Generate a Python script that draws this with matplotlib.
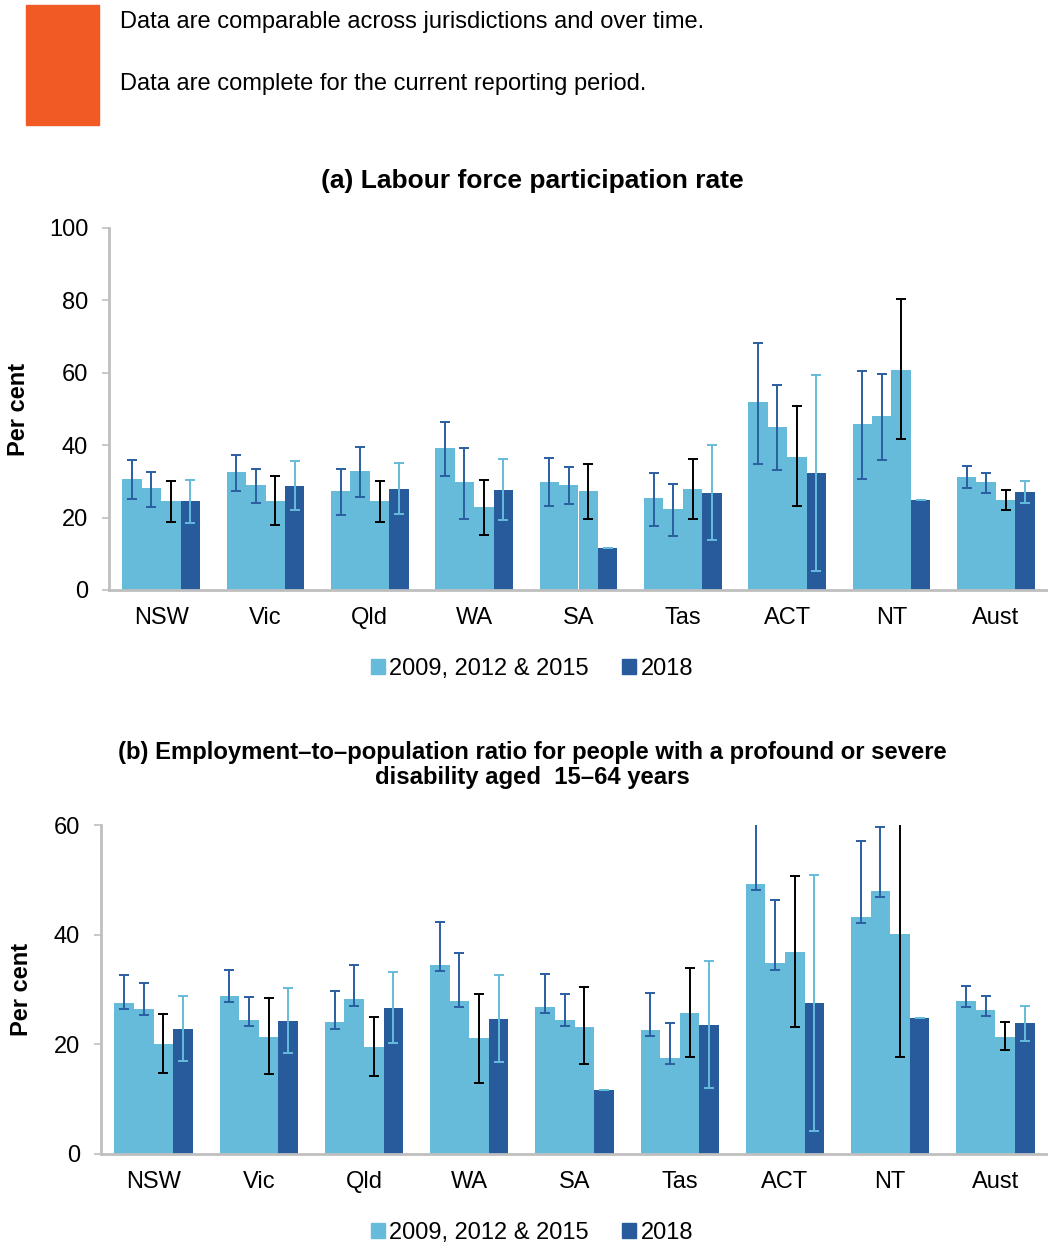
import matplotlib.pyplot as plt
import matplotlib.patches as mpatches
import numpy as np

plt.rcParams['font.family'] = ['Liberation Sans', 'DejaVu Sans']

states = ['NSW', 'Vic', 'Qld', 'WA', 'SA', 'Tas', 'ACT', 'NT', 'Aust']
years = ['2009', '2012', '2015', '2018']

# (a) labour force participation rate: value, lower CI, upper CI per year
lf_val = {
    '2009': [30.7, 32.5, 27.4, 39.2, 29.9, 25.4, 51.8, 45.8, 31.3],
    '2012': [28.1, 29.1, 32.8, 29.7, 29.1, 22.4, 45.1, 48.1, 29.9],
    '2015': [24.6, 24.7, 24.5, 22.8, 27.3, 27.9, 36.8, 60.9, 24.8],
    '2018': [24.6, 28.8, 28.0, 27.6, 11.5, 26.9, 32.2, 24.8, 27.0],
}
lf_lo = {
    '2009': [25.1, 27.3, 20.6, 31.6, 23.1, 17.8, 34.9, 30.8, 28.1],
    '2012': [23.0, 24.1, 25.7, 19.7, 23.7, 14.9, 33.1, 35.9, 26.9],
    '2015': [18.7, 17.9, 18.9, 15.1, 19.6, 19.7, 23.1, 41.7, 22.2],
    '2018': [18.4, 22.2, 21.0, 19.4, 11.5, 13.9, 5.3, 24.8, 23.9],
}
lf_hi = {
    '2009': [35.9, 37.4, 33.5, 46.4, 36.5, 32.4, 68.3, 60.4, 34.2],
    '2012': [32.6, 33.5, 39.6, 39.2, 34.0, 29.4, 56.6, 59.8, 32.2],
    '2015': [30.1, 31.6, 30.1, 30.5, 34.8, 36.1, 50.8, 80.3, 27.5],
    '2018': [30.4, 35.7, 35.1, 36.1, 11.5, 40.0, 59.3, 24.8, 30.1],
}

# (b) employment-to-population ratio
ep_val = {
    '2009': [27.6, 28.9, 24.0, 34.5, 26.8, 22.6, 49.3, 43.3, 27.9],
    '2012': [26.5, 24.5, 28.2, 27.9, 24.5, 17.5, 34.8, 47.9, 26.3],
    '2015': [20.1, 21.4, 19.5, 21.1, 23.2, 25.7, 36.9, 40.1, 21.4],
    '2018': [22.8, 24.3, 26.6, 24.6, 11.6, 23.5, 27.5, 24.8, 23.8],
}
ep_lo = {
    '2009': [26.5, 27.7, 22.8, 33.3, 25.7, 21.5, 48.2, 42.2, 26.8],
    '2012': [25.3, 23.3, 27.0, 26.8, 23.3, 16.4, 33.6, 46.8, 25.2],
    '2015': [14.8, 14.5, 14.2, 12.9, 16.4, 17.6, 23.2, 17.6, 18.9],
    '2018': [16.9, 18.5, 20.2, 16.7, 11.6, 12.0, 4.2, 24.8, 20.6],
}
ep_hi = {
    '2009': [32.7, 33.6, 29.8, 42.4, 32.8, 29.3, 65.0, 57.1, 30.6],
    '2012': [31.1, 28.7, 34.4, 36.6, 29.2, 23.9, 46.4, 59.7, 28.8],
    '2015': [25.6, 28.4, 25.0, 29.2, 30.4, 33.9, 50.7, 62.6, 24.1],
    '2018': [28.9, 30.2, 33.2, 32.7, 11.6, 35.2, 50.8, 24.8, 27.0],
}

light = '#66BBDB'
dark = '#275B9B'
bar_colors = [light, light, light, dark]
err_colors = ['#2A5EA0', '#2A5EA0', 'black', '#66BBDB']
grey = '#BFBFBF'
fs = 17


def draw(ax, val, lo, hi, ymax, step):
    x = np.arange(len(states))
    w = 0.186
    for i, yr in enumerate(years):
        xs = x + (i - 1.5) * w
        v = np.array(val[yr])
        ax.bar(xs, v, width=w, color=bar_colors[i], edgecolor='none', zorder=2)
        yerr = [v - np.array(lo[yr]), np.array(hi[yr]) - v]
        ax.errorbar(xs, v, yerr=yerr, fmt='none', ecolor=err_colors[i],
                    elinewidth=1.4, capsize=3.8, capthick=1.4, zorder=3)
    ax.set_xlim(-0.5, len(states) - 0.5)
    ax.set_ylim(0, ymax)
    ax.set_yticks(np.arange(0, ymax + 1, step))
    ax.set_xticks(x)
    ax.set_xticklabels(states, fontsize=fs)
    ax.tick_params(axis='x', length=0, pad=12)
    ax.tick_params(axis='y', labelsize=fs, color=grey, length=5, width=1.2, pad=10)
    for s in ['top', 'right']:
        ax.spines[s].set_visible(False)
    for s in ['left', 'bottom']:
        ax.spines[s].set_color(grey)
        ax.spines[s].set_linewidth(2)
    ax.set_ylabel('Per cent', fontsize=fs, fontweight='bold')


fig = plt.figure(figsize=(10.48, 12.45), dpi=100)

# header box
fig.patches.append(mpatches.Rectangle((26 / 1048, 1 - 125 / 1245), 73 / 1048, 120 / 1245,
                                      transform=fig.transFigure, color='#F15A24'))
fig.text(120 / 1048, 1 - 22 / 1245, 'Data are comparable across jurisdictions and over time.',
         fontsize=17, va='center')
fig.text(120 / 1048, 1 - 84 / 1245, 'Data are complete for the current reporting period.',
         fontsize=17, va='center')

ax1 = fig.add_axes([109 / 1048, 655 / 1245, 939 / 1048, 362 / 1245])
draw(ax1, lf_val, lf_lo, lf_hi, 100, 20)
ax1.yaxis.set_label_coords(-0.084, 0.5)
fig.text(532 / 1048, 1 - 181 / 1245, '(a) Labour force participation rate',
         fontsize=19, fontweight='bold', ha='center', va='center')

ax2 = fig.add_axes([101 / 1048, 91 / 1245, 947 / 1048, 329 / 1245])
draw(ax2, ep_val, ep_lo, ep_hi, 60, 20)
ax2.yaxis.set_label_coords(-0.072, 0.5)
fig.text(532 / 1048, 1 - 765 / 1245,
         '(b) Employment\u2013to\u2013population ratio for people with a profound or severe\n'
         'disability aged  15\u201364 years',
         fontsize=17.2, fontweight='bold', ha='center', va='center', linespacing=1.08)

handles = [mpatches.Patch(color=light, label='2009, 2012 & 2015'),
           mpatches.Patch(color=dark, label='2018')]
for yc in [1 - 669 / 1245, 1 - 1233 / 1245]:
    fig.legend(handles=handles, loc='center', bbox_to_anchor=(532 / 1048, yc), ncol=2,
               frameon=False, fontsize=fs, handlelength=0.6, handleheight=0.6,
               handletextpad=0.2, columnspacing=1.4)

fig.savefig('out.png', dpi=100)
